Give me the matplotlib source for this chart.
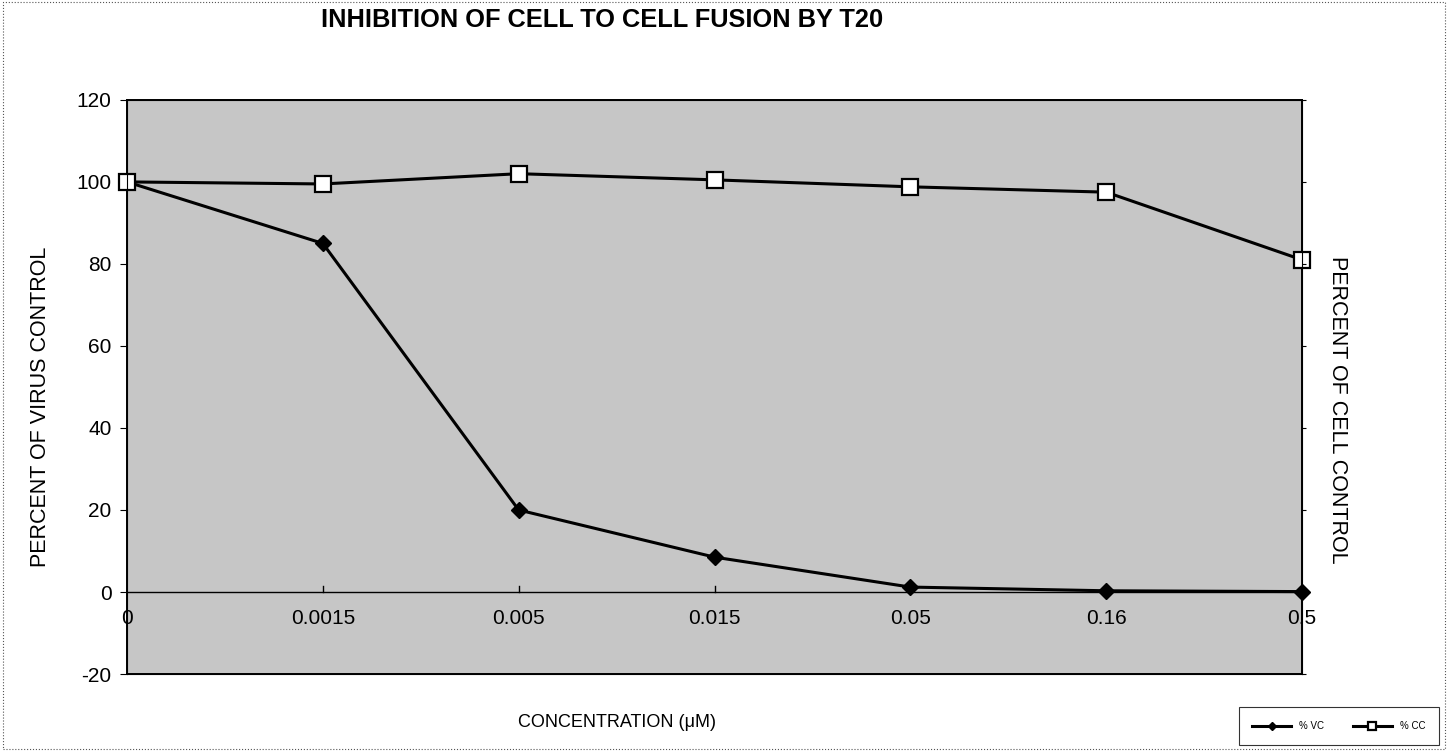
import numpy as np
import matplotlib
matplotlib.use("Agg")
import matplotlib.pyplot as plt

# Data
concentrations = ["0", "0.0015", "0.005", "0.015", "0.05", "0.16", "0.5"]
pct_vc = [100, 85, 20, 8.5, 1.2, 0.3, 0.1]
pct_cc = [100, 99.5, 102, 100.5, 98.8, 97.5, 81]
y_ticks = [-20, 0, 20, 40, 60, 80, 100, 120]

plt.rcParams["font.family"] = ["Liberation Sans", "DejaVu Sans"]
plt.rcParams["axes.unicode_minus"] = False

fig = plt.figure(figsize=(14.48, 7.51), dpi=100)
ax = fig.add_axes([0.0877, 0.1025, 0.8115, 0.7645])
ax.set_facecolor("#c6c6c6")

x = np.arange(len(concentrations))
ax.plot(x, pct_vc, color="black", lw=2.2, marker="D", ms=8,
        mfc="black", mec="black", label="% VC", zorder=3, clip_on=False)
ax.plot(x, pct_cc, color="black", lw=2.2, marker="s", ms=12,
        mfc="white", mec="black", mew=1.6, label="% CC", zorder=4, clip_on=False)

ax.set_xlim(0, len(concentrations) - 1)
ax.set_ylim(-20, 120)
ax.set_yticks(y_ticks)
ax.tick_params(axis="y", labelsize=15, length=5, direction="out", pad=6)

# x axis sits on y = 0
ax.axhline(0, color="black", lw=1, zorder=2)
ax.set_xticks(x)
ax.set_xticklabels([])
ax.tick_params(axis="x", length=0)
for xi, lab in zip(x, concentrations):
    ax.text(xi, -4.2, lab, ha="center", va="top", fontsize=15, zorder=5)
for xi in x[1:-1]:
    ax.plot([xi, xi], [0, 1.5], color="black", lw=1, zorder=2)

for s in ax.spines.values():
    s.set_linewidth(1.4)

ax.set_ylabel("PERCENT OF VIRUS CONTROL", fontsize=15.5, va="center")
ax.yaxis.set_label_coords(-0.074, 0.465)
ax2 = ax.twinx()
ax2.set_ylim(-20, 120)
ax2.set_yticks(y_ticks)
ax2.set_yticklabels([])
ax2.tick_params(axis="y", length=3)
ax2.set_ylabel("PERCENT OF CELL CONTROL", fontsize=15.5, rotation=-90, va="center")
ax2.yaxis.set_label_coords(1.03, 0.46)

fig.text(0.416, 0.974, "INHIBITION OF CELL TO CELL FUSION BY T20",
         ha="center", va="center", fontsize=18.3, fontweight="bold")
fig.text(0.426, 0.038, "CONCENTRATION (μM)", ha="center", va="center", fontsize=13)

leg = fig.legend(loc="lower right", bbox_to_anchor=(0.997, 0.002), ncol=2,
                 fontsize=7, frameon=True, fancybox=False, edgecolor="black",
                 handlelength=4, markerscale=0.5, borderpad=1.4, columnspacing=3)
leg.get_frame().set_linewidth(0.8)

# thin frame round the whole figure
fig.patches.append(plt.Rectangle((0.002, 0.002), 0.996, 0.996, transform=fig.transFigure,
                                 fill=False, edgecolor="#555555", lw=0.8, ls=":"))

fig.savefig("out.png", dpi=100)
